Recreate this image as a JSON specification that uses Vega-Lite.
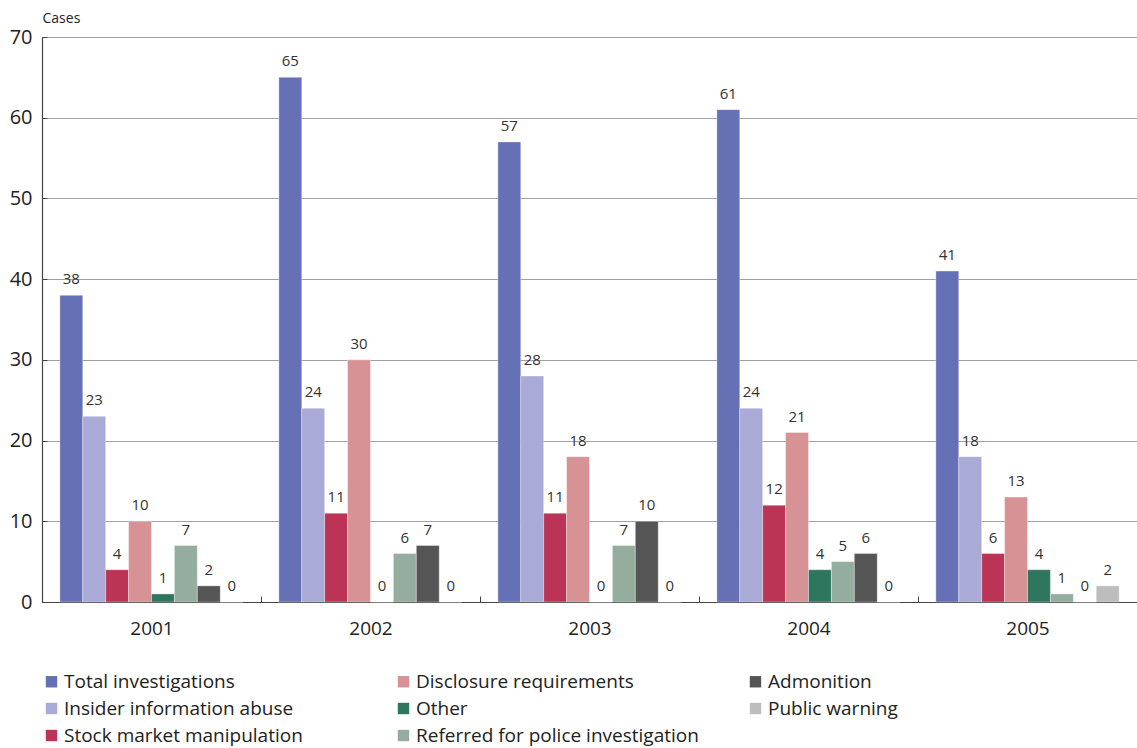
{
  "$schema": "https://vega.github.io/schema/vega-lite/v6.json",
  "width": 1095,
  "height": 565,
  "autosize": {"type": "none"},
  "padding": {"left": 42, "top": 37, "right": 0, "bottom": 146},
  "background": "white",
  "config": {
    "font": "Open Sans",
    "view": {"stroke": null},
    "axis": {"labelColor": "#222222", "titleColor": "#222222", "labelFont": "Open Sans", "titleFont": "Open Sans"},
    "legend": {"labelFont": "Open Sans"}
  },
  "data": {
    "values": [
      {"year": "2001", "category": "Total investigations", "cases": 38},
      {"year": "2001", "category": "Insider information abuse", "cases": 23},
      {"year": "2001", "category": "Stock market manipulation", "cases": 4},
      {"year": "2001", "category": "Disclosure requirements", "cases": 10},
      {"year": "2001", "category": "Other", "cases": 1},
      {"year": "2001", "category": "Referred for police investigation", "cases": 7},
      {"year": "2001", "category": "Admonition", "cases": 2},
      {"year": "2001", "category": "Public warning", "cases": 0},
      {"year": "2002", "category": "Total investigations", "cases": 65},
      {"year": "2002", "category": "Insider information abuse", "cases": 24},
      {"year": "2002", "category": "Stock market manipulation", "cases": 11},
      {"year": "2002", "category": "Disclosure requirements", "cases": 30},
      {"year": "2002", "category": "Other", "cases": 0},
      {"year": "2002", "category": "Referred for police investigation", "cases": 6},
      {"year": "2002", "category": "Admonition", "cases": 7},
      {"year": "2002", "category": "Public warning", "cases": 0},
      {"year": "2003", "category": "Total investigations", "cases": 57},
      {"year": "2003", "category": "Insider information abuse", "cases": 28},
      {"year": "2003", "category": "Stock market manipulation", "cases": 11},
      {"year": "2003", "category": "Disclosure requirements", "cases": 18},
      {"year": "2003", "category": "Other", "cases": 0},
      {"year": "2003", "category": "Referred for police investigation", "cases": 7},
      {"year": "2003", "category": "Admonition", "cases": 10},
      {"year": "2003", "category": "Public warning", "cases": 0},
      {"year": "2004", "category": "Total investigations", "cases": 61},
      {"year": "2004", "category": "Insider information abuse", "cases": 24},
      {"year": "2004", "category": "Stock market manipulation", "cases": 12},
      {"year": "2004", "category": "Disclosure requirements", "cases": 21},
      {"year": "2004", "category": "Other", "cases": 4},
      {"year": "2004", "category": "Referred for police investigation", "cases": 5},
      {"year": "2004", "category": "Admonition", "cases": 6},
      {"year": "2004", "category": "Public warning", "cases": 0},
      {"year": "2005", "category": "Total investigations", "cases": 41},
      {"year": "2005", "category": "Insider information abuse", "cases": 18},
      {"year": "2005", "category": "Stock market manipulation", "cases": 6},
      {"year": "2005", "category": "Disclosure requirements", "cases": 13},
      {"year": "2005", "category": "Other", "cases": 4},
      {"year": "2005", "category": "Referred for police investigation", "cases": 1},
      {"year": "2005", "category": "Admonition", "cases": 0},
      {"year": "2005", "category": "Public warning", "cases": 2}
    ]
  },
  "encoding": {
    "x": {
      "field": "year",
      "type": "nominal",
      "scale": {"paddingInner": 0, "paddingOuter": 0},
      "axis": {
        "title": null,
        "labelAngle": 0,
        "labelFontSize": 19,
        "labelPadding": 23,
        "tickBand": "extent",
        "tickSize": -6,
        "tickColor": "#444444",
        "domainColor": "#444444",
        "domainWidth": 1.2
      }
    },
    "xOffset": {
      "field": "category",
      "type": "nominal",
      "scale": {
        "domain": [
          "Total investigations",
          "Insider information abuse",
          "Stock market manipulation",
          "Disclosure requirements",
          "Other",
          "Referred for police investigation",
          "Admonition",
          "Public warning"
        ],
        "paddingInner": 0,
        "paddingOuter": 0.78
      }
    },
    "y": {
      "field": "cases",
      "type": "quantitative",
      "scale": {"domain": [0, 70], "nice": false},
      "axis": {
        "title": "Cases",
        "titleAngle": 0,
        "titleAlign": "left",
        "titleBaseline": "bottom",
        "titleFontSize": 14,
        "titleFontWeight": "normal",
        "titleX": 0,
        "titleY": -12,
        "values": [0, 10, 20, 30, 40, 50, 60, 70],
        "labelFontSize": 20,
        "labelPadding": 15,
        "tickSize": -5,
        "tickColor": "#444444",
        "domain": true,
        "domainColor": "#444444",
        "domainWidth": 1.2,
        "gridColor": "#a0a0a0",
        "gridWidth": 1
      }
    }
  },
  "layer": [
    {
      "mark": {"type": "bar", "stroke": "#ffffff", "strokeOpacity": 0.35, "strokeWidth": 1},
      "encoding": {
        "color": {
          "field": "category",
          "type": "nominal",
          "scale": {
            "domain": [
              "Total investigations",
              "Insider information abuse",
              "Stock market manipulation",
              "Disclosure requirements",
              "Other",
              "Referred for police investigation",
              "Admonition",
              "Public warning"
            ],
            "range": ["#6670b4", "#a9aad6", "#bc3455", "#d79295", "#2f765e", "#94ad9e", "#555555", "#bdbdbd"]
          },
          "legend": {
            "title": null,
            "orient": "none",
            "legendX": 0,
            "legendY": 635,
            "columns": 3,
            "gridAlign": "all",
            "columnPadding": 47,
            "rowPadding": 7,
            "symbolType": "square",
            "symbolSize": 130,
            "symbolStrokeWidth": 0,
            "labelFontSize": 19,
            "labelColor": "#222222",
            "labelOffset": 3,
            "labelLimit": 400
          }
        }
      }
    },
    {
      "mark": {"type": "text", "baseline": "bottom", "dy": -8, "fontSize": 15, "fill": "#333333"},
      "encoding": {
        "text": {"field": "cases", "type": "quantitative"}
      }
    }
  ]
}
